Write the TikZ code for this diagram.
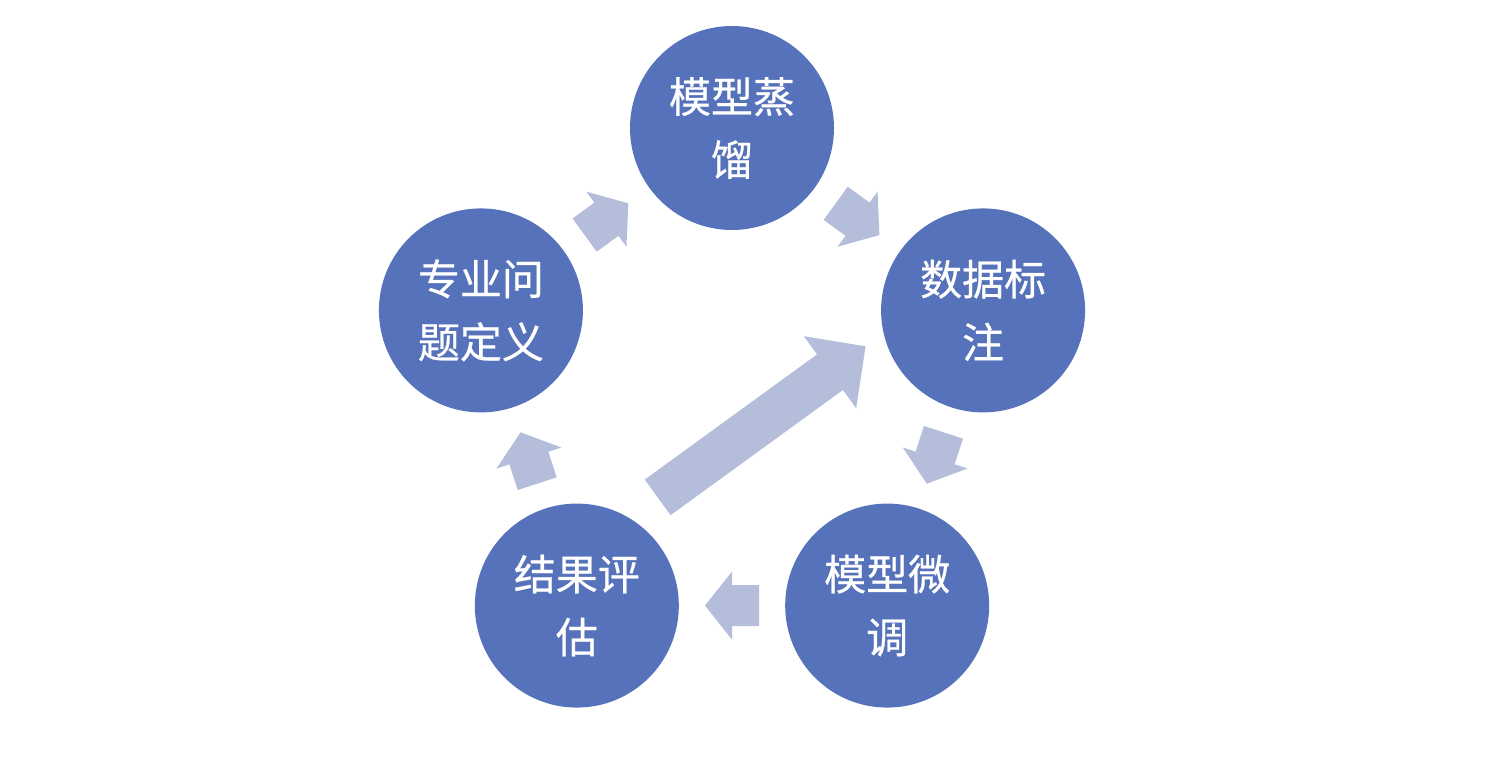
\documentclass[tikz,border=0pt]{standalone}
\usepackage{fontspec}
\newfontfamily\cjkfont[FakeBold=0.6]{Noto Sans CJK SC}
\usetikzlibrary{calc}
\definecolor{circblue}{HTML}{5572BA}
\definecolor{arrowgray}{HTML}{B4BDDA}
\tikzset{
  stage/.style={circle, fill=circblue, minimum size=204pt, inner sep=0pt,
    text=white, align=center, font=\cjkfont\fontsize{42}{63}\selectfont},
  arrowshape/.style={fill=arrowgray, draw=none},
}
\newcommand\stagearrow[3]{%
  \begin{scope}[shift={($(#1)!0.5!(#2)$)}, rotate=#3]
    \fill[arrowshape] (-27,-20.5) -- (0,-20.5) -- (0,-34) -- (27,0) -- (0,34) -- (0,20.5) -- (-27,20.5) -- cycle;
  \end{scope}}
\begin{document}
\begin{tikzpicture}[x=1pt,y=1pt]
  \fill[white] (0,0) rectangle (1502,768);
  \useasboundingbox (0,0) rectangle (1502,768);
  \coordinate (ctr) at (732,376);
  \node[stage] (n1) at ($(ctr)+(90:264)$) {模型蒸\\馏};
  \node[stage] (n2) at ($(ctr)+(18:264)$) {数据标\\注};
  \node[stage] (n3) at ($(ctr)+(-54:264)$) {模型微\\调};
  \node[stage] (n4) at ($(ctr)+(-126:264)$) {结果评\\估};
  \node[stage] (n5) at ($(ctr)+(162:264)$) {专业问\\题定义};
  \stagearrow{n5}{n1}{36}
  \stagearrow{n1}{n2}{-36}
  \stagearrow{n2}{n3}{-108}
  \stagearrow{n3}{n4}{180}
  \stagearrow{n4}{n5}{108}
  \begin{scope}[shift={(n4.center)}, rotate=36]
    \fill[arrowshape] (129,18) -- (342,18) -- (342,-4.5) -- (386,40) -- (342,84.5) -- (342,62) -- (129,62) -- cycle;
  \end{scope}
\end{tikzpicture}
\end{document}
